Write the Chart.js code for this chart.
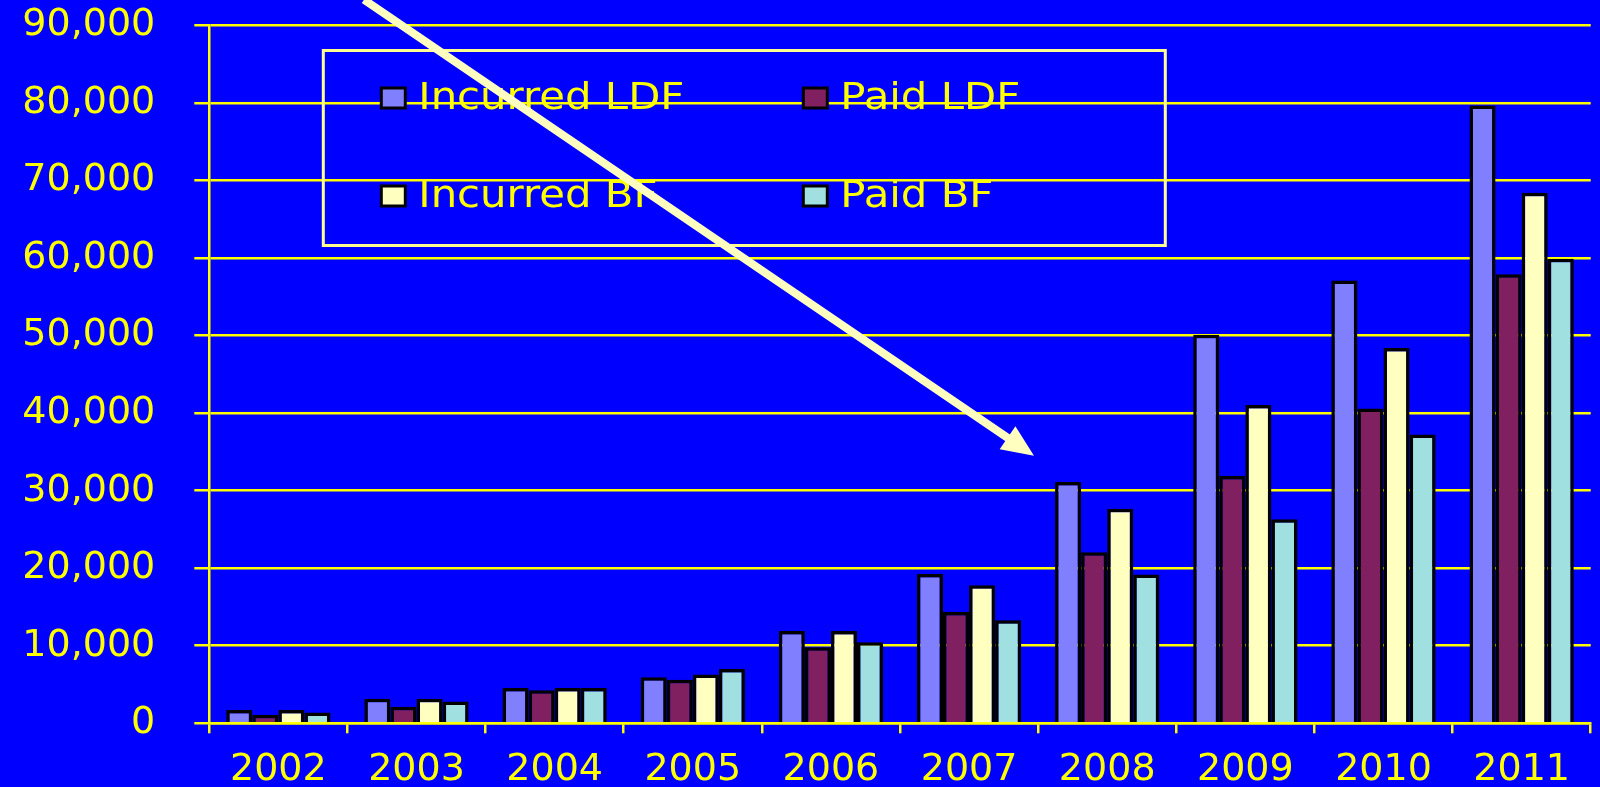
<!DOCTYPE html>
<html>
<head>
<meta charset="utf-8">
<script src="https://cdn.jsdelivr.net/npm/chart.js@4/dist/chart.umd.min.js"></script>
<style>
  html, body { margin: 0; padding: 0; background: #0000FF; }
  #chart { display: block; }
</style>
</head>
<body>
<canvas id="chart" width="1600" height="787"></canvas>
<script>
// years on the x axis
const years = ['2002', '2003', '2004', '2005', '2006', '2007', '2008', '2009', '2010', '2011'];

// ultimate estimates per method
const incurredLDF = [1700, 3150, 4550, 5950, 11900, 19250, 31100, 50100, 57100, 79650];
const paidLDF     = [1100, 2150, 4250, 5600, 9800, 14350, 22050, 31900, 40600, 57900];
const incurredBF  = [1700, 3150, 4550, 6300, 11900, 17800, 27650, 41050, 48400, 68400];
const paidBF      = [1400, 2800, 4550, 7000, 10450, 13300, 19200, 26300, 37250, 59900];

const seriesNames  = ['Incurred LDF', 'Paid LDF', 'Incurred BF', 'Paid BF'];
const seriesColors = ['#8080FF', '#802060', '#FFFFC0', '#A0E0E0'];

// arrow, in data units (category index, value)
const arrowFrom = { x: 0.62, y: 93300 };
const arrowTo   = { x: 5.47, y: 34500 };

const YELLOW = '#FFFF00';
const PALE = '#FFFFC0';

// legend box drawn inside the plot
const legendPlugin = {
    id: 'boxLegend',
    afterDatasetsDraw(chart) {
        const ctx = chart.ctx;
        const area = chart.chartArea;
        const left = area.left + 114;
        const top = 50.5;
        const w = 842, h = 195;
        ctx.save();
        ctx.strokeStyle = '#FFFF90';
        ctx.lineWidth = 3;
        ctx.strokeRect(left, top, w, h);

        const cols = [left + 58, left + 480];
        const rows = [98, 196];
        ctx.font = '38px "DejaVu Sans"';
        ctx.textBaseline = 'alphabetic';
        chart.data.datasets.forEach((ds, i) => {
            const cx = cols[i % 2];
            const cy = rows[Math.floor(i / 2)];
            ctx.fillStyle = ds.backgroundColor;
            ctx.fillRect(cx, cy - 10, 24, 20);
            ctx.strokeStyle = '#000';
            ctx.lineWidth = 3;
            ctx.strokeRect(cx, cy - 10, 24, 20);
            ctx.save();
            ctx.translate(cx + 37, cy + 11);
            ctx.scale(1.1, 1);
            ctx.fillStyle = YELLOW;
            ctx.fillText(ds.label, 0, 0);
            ctx.restore();
        });
        ctx.restore();
    }
};

const arrowPlugin = {
    id: 'arrow',
    afterDraw(chart) {
        const xs = chart.scales.x, ys = chart.scales.y;
        const x1 = xs.getPixelForValue(arrowFrom.x), y1 = ys.getPixelForValue(arrowFrom.y);
        const x2 = xs.getPixelForValue(arrowTo.x), y2 = ys.getPixelForValue(arrowTo.y);
        const ang = Math.atan2(y2 - y1, x2 - x1);
        const headLen = 32, headHalf = 14;
        const bx = x2 - headLen * Math.cos(ang), by = y2 - headLen * Math.sin(ang);
        const ctx = chart.ctx;
        ctx.save();
        ctx.strokeStyle = PALE;
        ctx.fillStyle = PALE;
        ctx.lineWidth = 8;
        ctx.beginPath();
        ctx.moveTo(x1, y1);
        ctx.lineTo(bx + 2 * Math.cos(ang), by + 2 * Math.sin(ang));
        ctx.stroke();
        ctx.beginPath();
        ctx.moveTo(x2, y2);
        ctx.lineTo(bx + headHalf * Math.sin(ang), by - headHalf * Math.cos(ang));
        ctx.lineTo(bx - headHalf * Math.sin(ang), by + headHalf * Math.cos(ang));
        ctx.closePath();
        ctx.fill();
        ctx.restore();
    }
};

const values = [incurredLDF, paidLDF, incurredBF, paidBF];

const ctx = document.getElementById('chart').getContext('2d');
const chart = new Chart(ctx, {
    type: 'bar',
    data: {
        labels: years,
        datasets: values.map((v, i) => ({
            label: seriesNames[i],
            data: v,
            backgroundColor: seriesColors[i],
            borderColor: '#000000',
            borderWidth: 3.5,
            borderSkipped: 'bottom',
            categoryPercentage: 0.755,
            barPercentage: 1.0
        }))
    },
    options: {
        responsive: false,
        animation: false,
        layout: { padding: { top: 25.3, right: 9.3, bottom: 0, left: 0 } },
        plugins: {
            legend: { display: false },
            tooltip: { enabled: false }
        },
        scales: {
            x: {
                grid: {
                    offset: true,
                    drawOnChartArea: false,
                    drawTicks: true,
                    tickLength: 10,
                    color: YELLOW,
                    lineWidth: 2.5
                },
                border: { display: true, color: YELLOW, width: 2.5 },
                ticks: {
                    color: YELLOW,
                    font: { family: 'DejaVu Sans', size: 38 },
                    padding: 14,
                    maxRotation: 0
                },
                afterFit(scale) {
                    scale.height = 63.7;
                    scale.paddingLeft = 0;
                    scale.paddingRight = 0;
                }
            },
            y: {
                min: 0,
                max: 90000,
                grid: {
                    color: YELLOW,
                    lineWidth: 2.5,
                    tickLength: 15
                },
                border: { display: true, color: YELLOW, width: 2.5 },
                ticks: {
                    stepSize: 10000,
                    color: YELLOW,
                    font: { family: 'DejaVu Sans', size: 38 },
                    padding: 39,
                    callback: v => v.toLocaleString('en-US')
                },
                afterFit(scale) {
                    scale.width = 209.3;
                    scale.paddingTop = 0;
                    scale.paddingBottom = 0;
                }
            }
        }
    },
    plugins: [legendPlugin, arrowPlugin]
});
</script>
</body>
</html>
